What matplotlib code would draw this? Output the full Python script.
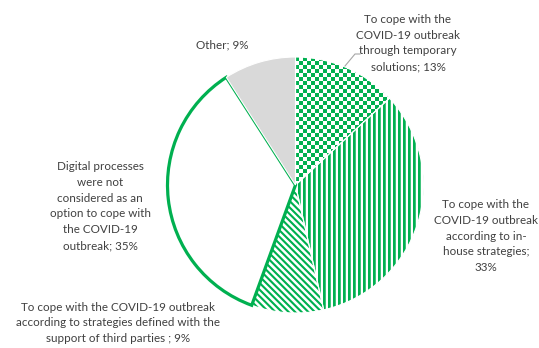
import numpy as np
import matplotlib.pyplot as plt
from matplotlib.patches import Wedge

# ---------------- DATA ----------------
labels = [
    "To cope with the\nCOVID-19 outbreak\nthrough temporary\nsolutions; 13%",
    "To cope with the\nCOVID-19 outbreak\naccording to in-\nhouse strategies;\n33%",
    "To cope with the COVID-19 outbreak\naccording to strategies defined with the\nsupport of third parties ; 9%",
    "Digital processes\nwere not\nconsidered as an\noption to cope with\nthe COVID-19\noutbreak; 35%",
    "Other; 9%",
]
shares = [13, 33, 9, 35, 9]
fills = ["checker", "vertical", "diagonal", "outline", "gray"]

# label anchor points (pixels, y measured from the top)
label_xy = [(408, 43), (486, 236), (118, 323), (100, 206), (222, 45)]

GREEN = "#00B050"
GRAY = "#D9D9D9"
TEXT = "#404040"

W, H = 539, 348
plt.rcParams["font.family"] = ["Lato", "DejaVu Sans"]

fig = plt.figure(figsize=(W / 100, H / 100), dpi=100)
ax = fig.add_axes([0, 0, 1, 1])

cx, cy, R = 295.5, H - 185, 128

wedges, _ = ax.pie(shares, startangle=90, counterclock=False,
                   center=(cx, cy), radius=R, colors=["white"] * len(shares),
                   wedgeprops=dict(linewidth=0))


def texture(kind, size, ss=4):
    # pattern built on the pixel grid, supersampled for soft edges
    n = size * ss
    i, j = np.mgrid[0:n, 0:n] / ss
    if kind == "checker":
        cov = ((np.floor(i / 4) + np.floor(j / 4)) % 2 == 0).astype(float)
    elif kind == "vertical":
        cov = ((j % 5) < 2.7).astype(float)
    else:
        cov = (((i - j) % 6.6) < 3.0).astype(float)
    cov = cov.reshape(size, ss, size, ss).mean(axis=(1, 3))
    g = np.array([0, 176, 80]) / 255
    rgb = 1 - cov[..., None] * (1 - g)
    return rgb


size = 2 * R + 8
x0, y0 = int(cx - size / 2), int(cy - size / 2)
extent = [x0, x0 + size, y0, y0 + size]

for w, kind in zip(wedges, fills):
    if kind in ("checker", "vertical", "diagonal"):
        im = ax.imshow(texture(kind, size), extent=extent,
                       interpolation="nearest", zorder=2)
        im.set_clip_path(w)
        # thin white separator between neighbouring slices
        ax.add_patch(Wedge(w.center, w.r, w.theta1, w.theta2, fill=False,
                           edgecolor="white", linewidth=0.8, zorder=2.5))
    elif kind == "outline":
        w.set_edgecolor(GREEN)
        w.set_linewidth(2.3)
        w.set_zorder(3)
    elif kind == "gray":
        w.set_facecolor(GRAY)
        w.set_edgecolor("white")
        w.set_linewidth(0.8)
        w.set_zorder(4)

for text, (x, y) in zip(labels, label_xy):
    ax.text(x, H - y, text, ha="center", va="center", fontsize=8.4,
            color=TEXT, linespacing=1.55, zorder=5)

# leader line for the top-right label
ax.plot([360, 355, 345], [H - 54, H - 54, H - 66], color="#A6A6A6",
        linewidth=0.8, zorder=5)

ax.set_xlim(0, W)
ax.set_ylim(0, H)
ax.set_aspect("equal")
ax.axis("off")

fig.savefig("out.png", dpi=100)
